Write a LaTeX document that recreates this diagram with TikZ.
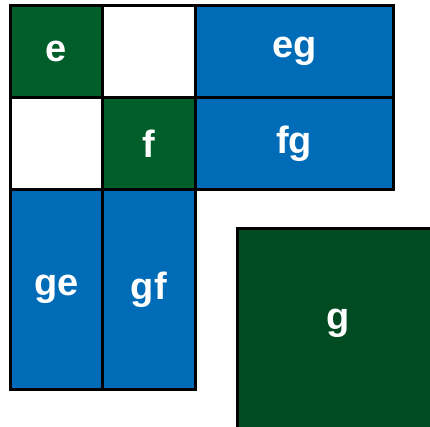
\documentclass[tikz,border=0pt]{standalone}
\usepackage{fontspec}
\setmainfont{Liberation Sans}
\definecolor{cgreen}{HTML}{005E2B}
\definecolor{cdark}{HTML}{004B21}
\definecolor{cblue}{HTML}{006CB7}
\begin{document}
\begin{tikzpicture}[x=1pt,y=-1pt,
  lbl/.style={font=\fontsize{38}{42}\selectfont\bfseries,text=white},
  cell/.style={lbl,draw=black,line width=3pt,inner sep=0pt,outer sep=0pt,anchor=north west},
  greencell/.style={cell,fill=cgreen},
  bluecell/.style={cell,fill=cblue},
  whitecell/.style={cell,fill=white}]
\useasboundingbox (0,0) rectangle (430,427);
\node[greencell,minimum width=92.5pt,minimum height=92.5pt] (e) at (10,5.5) {e};
\node[whitecell,minimum width=92.5pt,minimum height=92.5pt] (w1) at (102.5,5.5) {};
\node[bluecell,minimum width=198.5pt,minimum height=92.5pt] (eg) at (195,5.5) {eg};
\node[whitecell,minimum width=92.5pt,minimum height=92pt] (w2) at (10,98) {};
\node[greencell,minimum width=92.5pt,minimum height=92pt] (f) at (102.5,98) {f};
\node[bluecell,minimum width=198.5pt,minimum height=92pt] (fg) at (195,98) {fg};
\node[bluecell,minimum width=92.5pt,minimum height=199pt] (ge) at (10,190) {ge};
\node[bluecell,minimum width=92.5pt,minimum height=199pt] (gf) at (102.5,190) {gf};
\node[cell,fill=cdark,minimum width=205pt,minimum height=220pt] (g) at (237.5,228.5) {};
\node[lbl,inner sep=0pt] (gl) at (338.5,323) {g};
\end{tikzpicture}
\end{document}
